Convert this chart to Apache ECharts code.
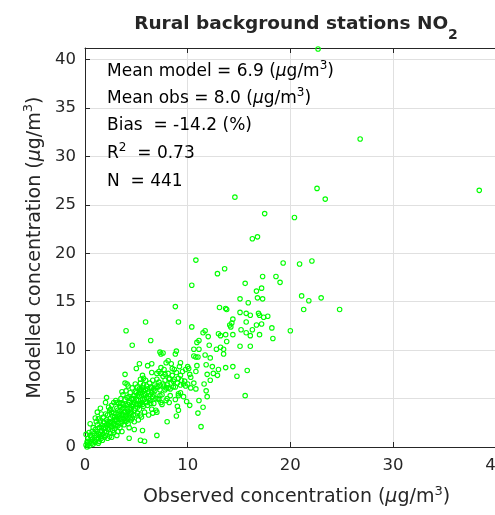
<!DOCTYPE html>
<html>
<head>
<meta charset="utf-8">
<script src="https://cdn.jsdelivr.net/npm/echarts@6/dist/echarts.min.js"></script>
<style>
  html, body { margin: 0; padding: 0; background: #fff; overflow: hidden; }
  #chart { width: 530px; height: 515px; }
</style>
</head>
<body>
<div id="chart"></div>
<script>
// Observed vs modelled NO2 at rural background stations, [observed, modelled] in µg/m3.
const lowRange = [
  [0.1,0.2],[0.2,0.5],[0.3,0.3],[0.3,0.9],[0.4,0.1],[0.5,0.6],[0.5,1.2],[0.6,0.4],[0.7,0.8],[0.7,1.6],
  [0.8,0.3],[0.8,2.0],[0.9,1.0],[0.9,0.6],[0.2,0.0],[0.5,2.4],[0.1,1.3],[0.3,0.6],[0.6,1.0],[0.4,1.5],[0.9,1.4],
  [1.0,0.5],[1.1,1.2],[1.1,0.8],[1.2,1.6],[1.2,2.3],[1.3,0.9],[1.3,1.4],[1.4,2.0],[1.4,0.6],[1.5,1.1],
  [1.5,2.7],[1.6,1.7],[1.6,0.9],[1.7,2.2],[1.7,1.3],[1.8,3.1],[1.8,1.9],[1.9,1.0],[1.9,2.5],[1.2,3.6],
  [1.0,3.0],[1.5,4.0],[1.9,1.5],[1.3,2.9],[1.6,3.4],[1.0,1.8],[1.1,2.6],[1.4,1.3],[1.7,0.7],[1.8,2.6],
  [1.6,2.0],[1.3,0.4],
  [2.0,1.2],[2.0,2.0],[2.1,2.8],[2.1,1.6],[2.2,3.3],[2.2,0.9],[2.3,2.3],[2.3,1.8],[2.4,3.8],[2.4,2.6],
  [2.5,1.4],[2.5,3.0],[2.6,2.1],[2.6,4.3],[2.7,2.7],[2.7,1.7],[2.8,3.5],[2.8,2.4],[2.9,3.1],[2.9,1.9],
  [2.0,4.6],[2.3,4.1],[2.5,2.5],[2.6,3.6],[2.8,4.6],[2.2,2.6],[2.4,1.1],[2.9,2.8],[2.0,3.4],[2.2,1.9],
  [2.4,2.2],[2.6,1.0],[2.7,3.2],[2.8,1.5],[2.9,2.2],[2.1,2.3],[2.5,3.9],[2.1,5.1]
];

const midRange = [
  [3.0,2.2],[3.0,3.4],[3.1,2.8],[3.1,4.0],[3.2,1.6],[3.2,3.1],[3.3,2.5],[3.3,4.5],[3.4,3.7],[3.4,2.0],
  [3.5,3.0],[3.5,5.0],[3.6,2.6],[3.6,3.9],[3.7,3.3],[3.7,4.4],[3.8,2.3],[3.8,3.6],[3.9,4.9],[3.9,3.0],
  [3.0,4.8],[3.2,3.8],[3.4,4.2],[3.5,2.4],[3.6,1.6],[3.8,4.1],[3.9,2.7],[3.3,3.4],[3.7,5.4],[3.1,1.2],
  [3.0,2.8],[3.2,2.2],[3.4,3.2],[3.5,4.5],[3.6,3.4],[3.8,2.9],[3.9,3.6],[3.3,2.9],
  [3.9,6.6],[3.6,5.7],[3.1,4.6],[3.9,7.5],[4.0,12.0],
  [4.0,3.2],[4.0,4.3],[4.1,2.9],[4.1,5.1],[4.2,3.7],[4.2,2.4],[4.3,4.6],[4.3,3.4],[4.4,5.6],[4.4,4.0],
  [4.5,2.8],[4.5,3.6],[4.6,4.9],[4.6,6.1],[4.7,3.3],[4.7,4.4],[4.8,5.3],[4.8,2.6],[4.9,4.0],[4.9,6.5],
  [4.0,5.8],[4.2,6.3],[4.4,3.0],[4.5,5.0],[4.6,4.2],[4.8,3.8],[4.9,5.7],[4.1,4.0],[4.3,2.0],
  [4.0,2.6],[4.1,3.5],[4.2,4.4],[4.4,3.5],[4.5,4.3],[4.6,3.0],[4.7,5.0],[4.8,4.6],[4.9,3.3],[4.3,5.2],
  [4.1,6.5],[4.3,0.9],[4.8,1.8],[4.6,10.5],[5.0,8.1],
  [5.0,4.4],[5.0,5.6],[5.1,3.5],[5.1,6.2],[5.2,4.8],[5.3,5.2],[5.3,3.9],[5.4,6.6],[5.4,4.5],[5.5,5.9],
  [5.5,3.1],[5.6,5.0],[5.7,4.2],[5.7,6.4],[5.8,5.5],[5.8,3.6],[5.9,6.9],[5.9,4.7],[5.2,2.8],[5.3,6.0],
  [5.5,4.6],[5.6,6.1],[5.7,5.3],[5.9,5.9],[5.1,5.3],[5.4,3.3],
  [5.0,4.9],[5.1,4.1],[5.2,5.5],[5.3,4.4],[5.4,5.8],[5.6,4.4],[5.7,5.8],[5.8,4.9],[5.9,5.4],
  [5.6,1.7],[5.4,0.7],[5.8,0.6],[5.9,12.9],[5.3,8.6],[5.6,7.4],[5.4,7.0],[5.7,7.1],
  [6.0,5.1],[6.0,6.3],[6.1,4.3],[6.2,5.7],[6.3,6.6],[6.3,4.8],[6.4,5.4],[6.5,6.1],[6.5,3.9],[6.6,6.9],
  [6.6,5.2],[6.7,4.5],[6.8,6.4],[6.8,5.8],[6.9,5.0],[6.2,3.3],[6.4,6.2],[6.7,6.0],[6.9,3.8],
  [6.0,4.6],[6.1,6.0],[6.2,5.0],[6.4,4.5],[6.5,5.6],[6.7,5.4],[6.9,6.2],
  [6.4,11.0],[6.1,8.4],[6.5,8.6],[6.5,7.7],[6.4,4.8],[6.6,3.5]
];

const upperRange = [
  [7.0,7.6],[7.0,7.0],[7.1,6.2],[7.2,4.9],[7.2,6.7],[7.3,5.3],[7.4,8.2],[7.5,4.4],[7.6,6.5],[7.7,8.0],
  [7.8,6.9],[7.9,6.1],[7.9,4.8],[7.5,5.4],[7.3,6.4],[7.6,7.3],[7.8,5.9],[7.1,5.0],[7.3,5.9],[7.4,4.6],[7.7,6.3],
  [8.0,6.4],[8.1,7.6],[8.2,7.0],[8.3,6.0],[8.4,6.6],[8.5,8.1],[8.6,6.8],[8.8,6.2],[8.9,7.7],[8.2,4.6],
  [8.7,7.0],[8.4,8.6],[8.0,5.0],[8.1,6.1],[8.3,5.3],[8.6,6.2],[8.8,4.9],
  [9.0,6.6],[9.2,8.3],[9.4,6.9],[9.6,5.2],[9.8,6.3],[9.9,4.7],[9.5,7.8],[9.3,6.4],[9.7,6.8],[10.0,6.5],
  [10.3,6.1],[10.6,6.6],[10.2,7.5],[10.8,6.0],[9.1,5.5],[9.3,8.7],[9.6,6.5],[9.8,8.0],
  [7.3,9.8],[7.6,9.7],[7.4,9.6],[8.9,9.9],[8.8,9.6],[8.1,8.9],[7.9,8.7],[10.0,8.3],[10.1,8.1],[10.9,8.4],
  [10.8,7.8],[11.8,8.5],[12.4,8.3],[13.0,8.0],[11.9,7.5],[12.5,7.6],[12.9,7.4],[7.2,7.8],[7.4,7.6],[7.8,7.5],
  [8.7,8.0],[8.5,7.4],[9.1,7.1],[8.2,7.1],[10.3,7.2],[9.3,7.4],
  [11.7,12.0],[11.5,11.8],[13.0,11.7],[13.2,11.5],[12.0,11.4],[11.1,11.0],[10.9,10.8],[12.1,10.5],[13.2,10.3],
  [12.8,10.1],[10.6,10.1],[11.1,10.1],[11.7,9.5],[10.8,9.3],[11.0,9.3],[12.2,9.2],[10.6,9.4],
  [9.1,12.9],[10.4,12.4],
  [11.9,5.2],[11.8,5.8],[11.6,6.5],[12.2,6.9],[11.1,4.8],[11.5,4.1],[11.0,3.5],[11.3,2.1],[10.2,4.3],
  [8.0,2.6],[7.0,1.2],[7.0,3.6],[8.9,3.2],[9.1,3.8],[9.0,4.2],[9.3,5.6],[9.1,5.3]
];

const highRange = [
  [20.0,12.0],[18.2,12.3],[18.3,11.2],[17.0,11.6],[16.1,10.4],[15.1,10.4],[13.8,10.9],[13.7,11.6],[14.4,11.6],
  [15.2,12.1],[15.7,11.8],[16.1,11.5],[16.3,12.1],[16.7,12.6],[17.2,12.7],[14.1,12.6],[14.3,12.8],[14.4,13.2],
  [14.2,12.4],[15.7,12.9],[15.1,13.9],[15.7,13.8],[16.1,13.6],[16.9,13.8],[17.0,13.6],[17.4,13.4],[17.8,13.5],
  [13.8,14.2],[13.5,10.1],[13.5,9.6],[13.7,8.2],[14.4,8.3],[15.8,7.9],[14.8,7.3],[15.6,5.3],
  [14.6,25.8],[22.6,26.7],[23.4,25.6],[38.4,26.5],[17.5,24.1],[20.4,23.7],[16.3,21.5],[16.8,21.7],[10.8,19.3],
  [19.3,19.0],[20.9,18.9],[22.1,19.2],[13.6,18.4],[12.9,17.9],[17.3,17.6],[18.6,17.6],[19.0,17.0],[15.6,16.9],
  [10.4,16.7],[17.2,16.4],[16.7,16.1],[15.1,15.3],[16.8,15.4],[17.3,15.3],[15.9,14.9],[21.1,15.6],[21.8,15.1],
  [23.0,15.4],[8.8,14.5],[13.1,14.4],[13.7,14.3],[21.3,14.2],[24.8,14.2],[26.8,31.8],[22.7,41.1]
];

const xTicks = [0, 10, 20, 30, 40];
const yTicks = [0, 5, 10, 15, 20, 25, 30, 35, 40];
const axisMax = 41.2;

const statLines = [
  '{a|Mean model = 6.9 (}{mu|\u03bc}{a|g/m}{sup|3}{a|)}',
  '{a|Mean obs = 8.0 (}{mu|\u03bc}{a|g/m}{sup|3}{a|)}',
  '{a|Bias  = -14.2 (%)}',
  '{a|R}{sup|2}{a|  = 0.73}',
  '{a|N  = 441}'
];

const FONT = "'DejaVu Sans', 'Liberation Sans', sans-serif";
const INK = '#262626';

const stationPoints = lowRange.concat(midRange, upperRange, highRange);

function richStyles(size) {
  return {
    a:   { fontFamily: FONT, fontSize: size, color: INK, lineHeight: 24 },
    mu:  { fontFamily: FONT, fontSize: size, color: INK, fontStyle: 'italic', lineHeight: 24 },
    sup: { fontFamily: FONT, fontSize: Math.round(size * 0.7), color: INK, lineHeight: 12, verticalAlign: 'top' }
  };
}

const chart = echarts.init(document.getElementById('chart'), null, { renderer: 'canvas' });

const onTick = (ticks) => (v) => ticks.some(t => Math.abs(t - v) < 1e-6) ? String(v) : '';

chart.setOption({
  animation: false,
  backgroundColor: '#ffffff',
  grid: { left: 85, top: 48, width: 423, height: 399, containLabel: false },
  xAxis: [
    {
      type: 'value', position: 'bottom', min: 0, max: axisMax, interval: 10,
      axisLine: { show: true, onZero: false, lineStyle: { color: INK, width: 1 } },
      axisTick: { show: true, inside: true, length: 5, lineStyle: { color: INK } },
      axisLabel: { color: INK, fontFamily: FONT, fontSize: 16.5, margin: 10, formatter: onTick(xTicks) },
      splitLine: { show: true, lineStyle: { color: '#e0e0e0', width: 1 } },
      name: '{a|Observed concentration (}{mu|\u03bc}{a|g/m}{sup|3}{a|)}',
      nameLocation: 'middle', nameGap: 38,
      nameTextStyle: { rich: richStyles(19) }
    },
    {
      type: 'value', position: 'top', min: 0, max: axisMax, interval: 10,
      axisLine: { show: true, onZero: false, lineStyle: { color: INK, width: 1 } },
      axisTick: { show: true, inside: true, length: 5, lineStyle: { color: INK } },
      axisLabel: { show: false }, splitLine: { show: false }
    }
  ],
  yAxis: [
    {
      type: 'value', position: 'left', min: 0, max: axisMax, interval: 5,
      axisLine: { show: true, onZero: false, lineStyle: { color: INK, width: 1 } },
      axisTick: { show: true, inside: true, length: 5, lineStyle: { color: INK } },
      axisLabel: { color: INK, fontFamily: FONT, fontSize: 16.5, margin: 9, formatter: onTick(yTicks) },
      splitLine: { show: true, lineStyle: { color: '#e0e0e0', width: 1 } },
      name: '{a|Modelled concentration (}{mu|\u03bc}{a|g/m}{sup|3}{a|)}',
      nameLocation: 'middle', nameGap: 38, nameRotate: 90,
      nameTextStyle: { rich: richStyles(19) }
    },
    {
      type: 'value', position: 'right', min: 0, max: axisMax, interval: 5,
      axisLine: { show: true, onZero: false, lineStyle: { color: INK, width: 1 } },
      axisTick: { show: true, inside: true, length: 5, lineStyle: { color: INK } },
      axisLabel: { show: false }, splitLine: { show: false }
    }
  ],
  series: [{
    type: 'scatter',
    data: stationPoints,
    symbol: 'circle',
    symbolSize: 4.5,
    itemStyle: { color: 'rgba(0,0,0,0)', borderColor: '#00ff00', borderWidth: 1.1, opacity: 1 },
    emphasis: { disabled: true }
  }],
  graphic: [
    {
      type: 'text', x: 296, y: 25,
      style: {
        text: '{t|Rural background stations NO}{s|2}',
        align: 'center', verticalAlign: 'middle',
        rich: {
          t: { fontFamily: FONT, fontWeight: 'bold', fontSize: 18.5, fill: INK, lineHeight: 20, verticalAlign: 'top' },
          s: { fontFamily: FONT, fontWeight: 'bold', fontSize: 14, fill: INK, lineHeight: 14, verticalAlign: 'top', padding: [13, 0, 0, 0] }
        }
      }
    }
  ].concat(statLines.map((line, i) => ({
    type: 'text', x: 107, y: [72, 99, 126, 154, 182][i],
    z: 10,
    style: {
      text: line, align: 'left', verticalAlign: 'middle',
      rich: richStyles(17)
    }
  })))
});
</script>
</body>
</html>
